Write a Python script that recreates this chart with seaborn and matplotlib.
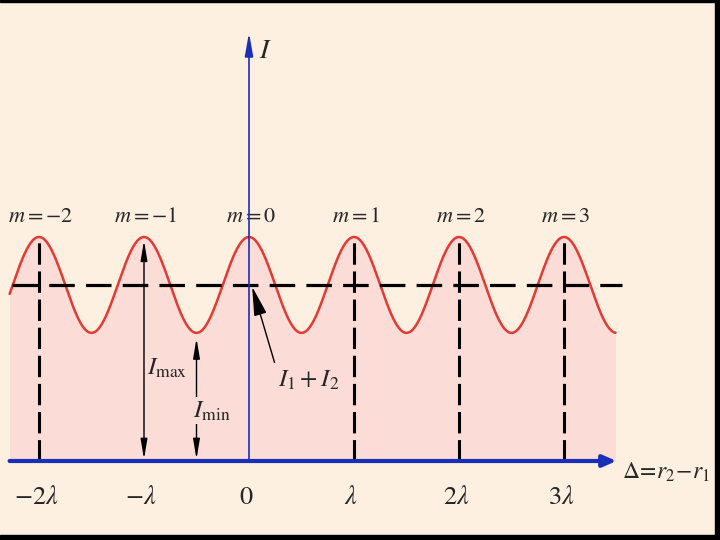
import numpy as np
import pandas as pd
import matplotlib
matplotlib.use("Agg")
import matplotlib.pyplot as plt
import seaborn as sns
from matplotlib.patches import Rectangle

# valores (x en unidades de lambda)
orders = [-2, -1, 0, 1, 2, 3]
tick_pos = [-2, -1, 0, 1, 2, 3]
tick_labels = [r"$-2\lambda$", r"$-\lambda$", r"$0$", r"$\lambda$", r"$2\lambda$", r"$3\lambda$"]
peak_labels = [r"$m = -2$", r"$m = -1$", r"$m = 0$", r"$m = 1$", r"$m = 2$", r"$m = 3$"]
I_max = 1.25
I_min = 0.715
x_start, x_end = -2.28, 3.49

# curva de intensidad I = I1 + I2 + 2 sqrt(I1 I2) cos(2 pi delta / lambda)
I_mean = (I_max + I_min) / 2
amp = (I_max - I_min) / 2
delta = np.linspace(x_start, x_end, 600)
df = pd.DataFrame({"delta": delta, "I": I_mean + amp * np.cos(2 * np.pi * delta)})

bg = "#FDF0E0"
pink = "#FBDCD6"
red = "#E33A34"
blue = "#1A2FB8"

sns.set_style("white")
plt.rcParams["mathtext.fontset"] = "stix"

fig = plt.figure(figsize=(7.2, 5.4), dpi=100, facecolor=bg)
ax = fig.add_axes([0, 0, 1, 1])
ax.set_facecolor(bg)
ax.set_xlim(-249 / 105, 471 / 105)
ax.set_ylim(-79 / 179.2, 461 / 179.2)
ax.axis("off")

# relleno rosa bajo la curva
ax.fill_between(df["delta"], 0, df["I"], color=pink, lw=0, zorder=1)
sns.lineplot(data=df, x="delta", y="I", color=red, lw=1.8, ax=ax, zorder=3)

# linea media I1 + I2
ax.plot([-2.26, 3.55], [I_mean, I_mean], color="black", lw=2.3,
        dashes=(8, 3.5), zorder=4)

# lineas verticales discontinuas en los maximos
for m in orders:
    if m in (-1, 0):
        continue
    ax.plot([m, m], [0, I_max], color="black", lw=2.2, dashes=(7, 2.2), zorder=2)

# etiquetas de orden m
for m, lab in zip(orders, peak_labels):
    ax.text(m + 0.02, I_max + 0.06, lab, ha="center", va="bottom", fontsize=16, zorder=5)

# ejes
ax.annotate("", xy=(3.50, 0), xytext=(-2.28, 0),
            arrowprops=dict(arrowstyle="-|>,head_length=0.8,head_width=0.35",
                            color=blue, lw=3, shrinkA=0, shrinkB=0), zorder=6)
ax.annotate("", xy=(0, 2.39), xytext=(0, 0),
            arrowprops=dict(arrowstyle="-|>,head_length=1.4,head_width=0.25",
                            color=blue, lw=1.2, shrinkA=0, shrinkB=0), zorder=6)
ax.text(0.1, 2.295, r"$I$", fontsize=20, ha="left", va="center")
ax.text(3.55, -0.06, r"$\Delta\!=\!r_2\!-\!r_1$", fontsize=17, ha="left", va="center")

# etiquetas del eje x
for p, lab in zip(tick_pos, tick_labels):
    ax.text(p - 0.03, -0.2, lab, ha="center", va="center", fontsize=19)

# flechas de I_max e I_min
ax.annotate("", xy=(-1, I_max - 0.02), xytext=(-1, 0.01),
            arrowprops=dict(arrowstyle="<|-|>,head_length=1.2,head_width=0.2",
                            color="black", lw=1, shrinkA=0, shrinkB=0), zorder=5)
ax.text(-0.97, 0.52, r"$I_{\max}$", fontsize=18, ha="left", va="center", zorder=6)
ax.annotate("", xy=(-0.5, I_min - 0.03), xytext=(-0.5, 0.01),
            arrowprops=dict(arrowstyle="<|-|>,head_length=1.2,head_width=0.2",
                            color="black", lw=1, shrinkA=0, shrinkB=0), zorder=5)
ax.text(-0.53, 0.28, r"$I_{\min}$", fontsize=18, ha="left", va="center", zorder=6,
        bbox=dict(facecolor=pink, edgecolor="none", pad=1))

# flecha I1 + I2
ax.annotate(r"$I_1+I_2$", xy=(0.03, I_mean - 0.01), xytext=(0.28, 0.45),
            fontsize=18, ha="left", va="center",
            arrowprops=dict(arrowstyle="-|>,head_length=1.0,head_width=0.22",
                            color="black", lw=1, shrinkA=2, shrinkB=0,
                            relpos=(0, 0.7)), zorder=6)

# marco negro
fig.patches.append(Rectangle((0, 1 - 2 / 540), 1, 2 / 540, transform=fig.transFigure,
                             color="black", zorder=10))
fig.patches.append(Rectangle((715 / 720, 0), 5 / 720, 1, transform=fig.transFigure,
                             color="black", zorder=10))
fig.patches.append(Rectangle((0, 0), 1, 5 / 540, transform=fig.transFigure,
                             color="black", zorder=10))

fig.savefig("out.png", dpi=100, facecolor=bg)
